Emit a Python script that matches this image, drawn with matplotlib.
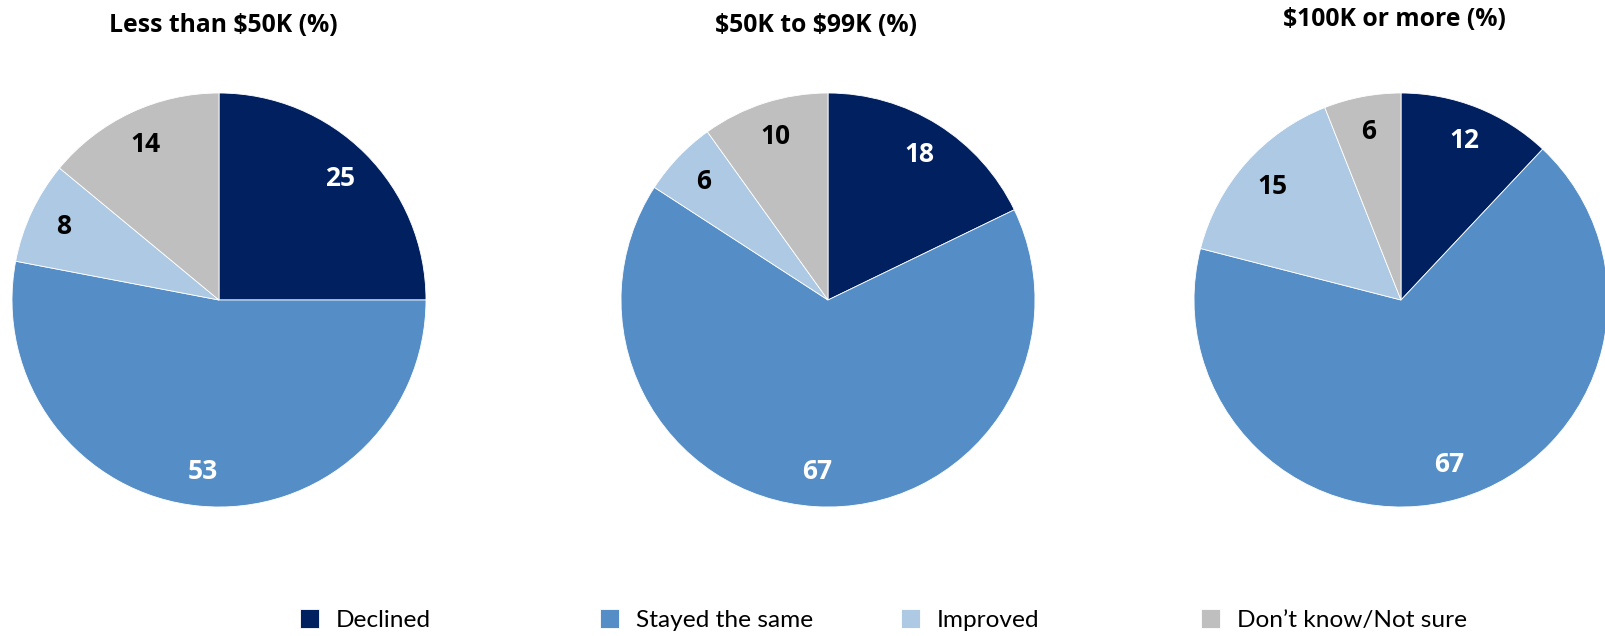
import matplotlib
matplotlib.use("Agg")
import matplotlib.pyplot as plt

categories = ["Declined", "Stayed the same", "Improved", "Don\u2019t know/Not sure"]
titles = ["Less than $50K (%)", "$50K to $99K (%)", "$100K or more (%)"]
values_lt50 = [25, 53, 8, 14]
values_50_99 = [18, 67, 6, 10]
values_100 = [12, 67, 15, 6]
series = [values_lt50, values_50_99, values_100]

colors = ["#002060", "#558EC7", "#ADC9E4", "#BFBFBF"]
label_colors = ["white", "white", "black", "black"]

plt.rcParams['font.family'] = ['Open Sans', 'DejaVu Sans']
plt.rcParams['text.parse_math'] = False

W, H = 1606, 636
fig = plt.figure(figsize=(W / 100, H / 100), dpi=100)

centers = [(219, 300), (828, 300), (1401, 300)]
R = 207
title_pos = [(223, 25), (816, 25), (1394, 19)]

for vals, (cx, cy), title, (tx, ty) in zip(series, centers, titles, title_pos):
    ax = fig.add_axes([(cx - R) / W, (H - cy - R) / H, 2 * R / W, 2 * R / H])
    wedges, texts = ax.pie(vals, colors=colors, startangle=90, counterclock=False,
                           labels=[str(v) for v in vals], labeldistance=0.83,
                           wedgeprops=dict(edgecolor="white", linewidth=0.6),
                           radius=1.0)
    for t, c in zip(texts, label_colors):
        t.set_color(c)
        t.set_fontsize(19)
        t.set_fontweight("bold")
        t.set_ha("center")
        t.set_va("center")
    ax.set_xlim(-1, 1)
    ax.set_ylim(-1, 1)
    ax.set_aspect("equal")
    ax.axis("off")
    fig.text(tx / W, 1 - ty / H, title, ha="center", va="center",
             fontsize=17.8, fontweight="bold")
    last_wedges = wedges

legend_x = [300, 600, 901, 1201]
for wedge, cat, lx in zip(last_wedges, categories, legend_x):
    fig.legend([wedge], [cat], loc="center left",
               bbox_to_anchor=(lx / W, 1 - 620 / H), frameon=False,
               prop=dict(family=['Lato', 'DejaVu Sans'], size=17.6),
               handlelength=0.78, handleheight=0.78,
               handletextpad=0.7, borderpad=0, borderaxespad=0)

fig.savefig("out.png", dpi=100)
